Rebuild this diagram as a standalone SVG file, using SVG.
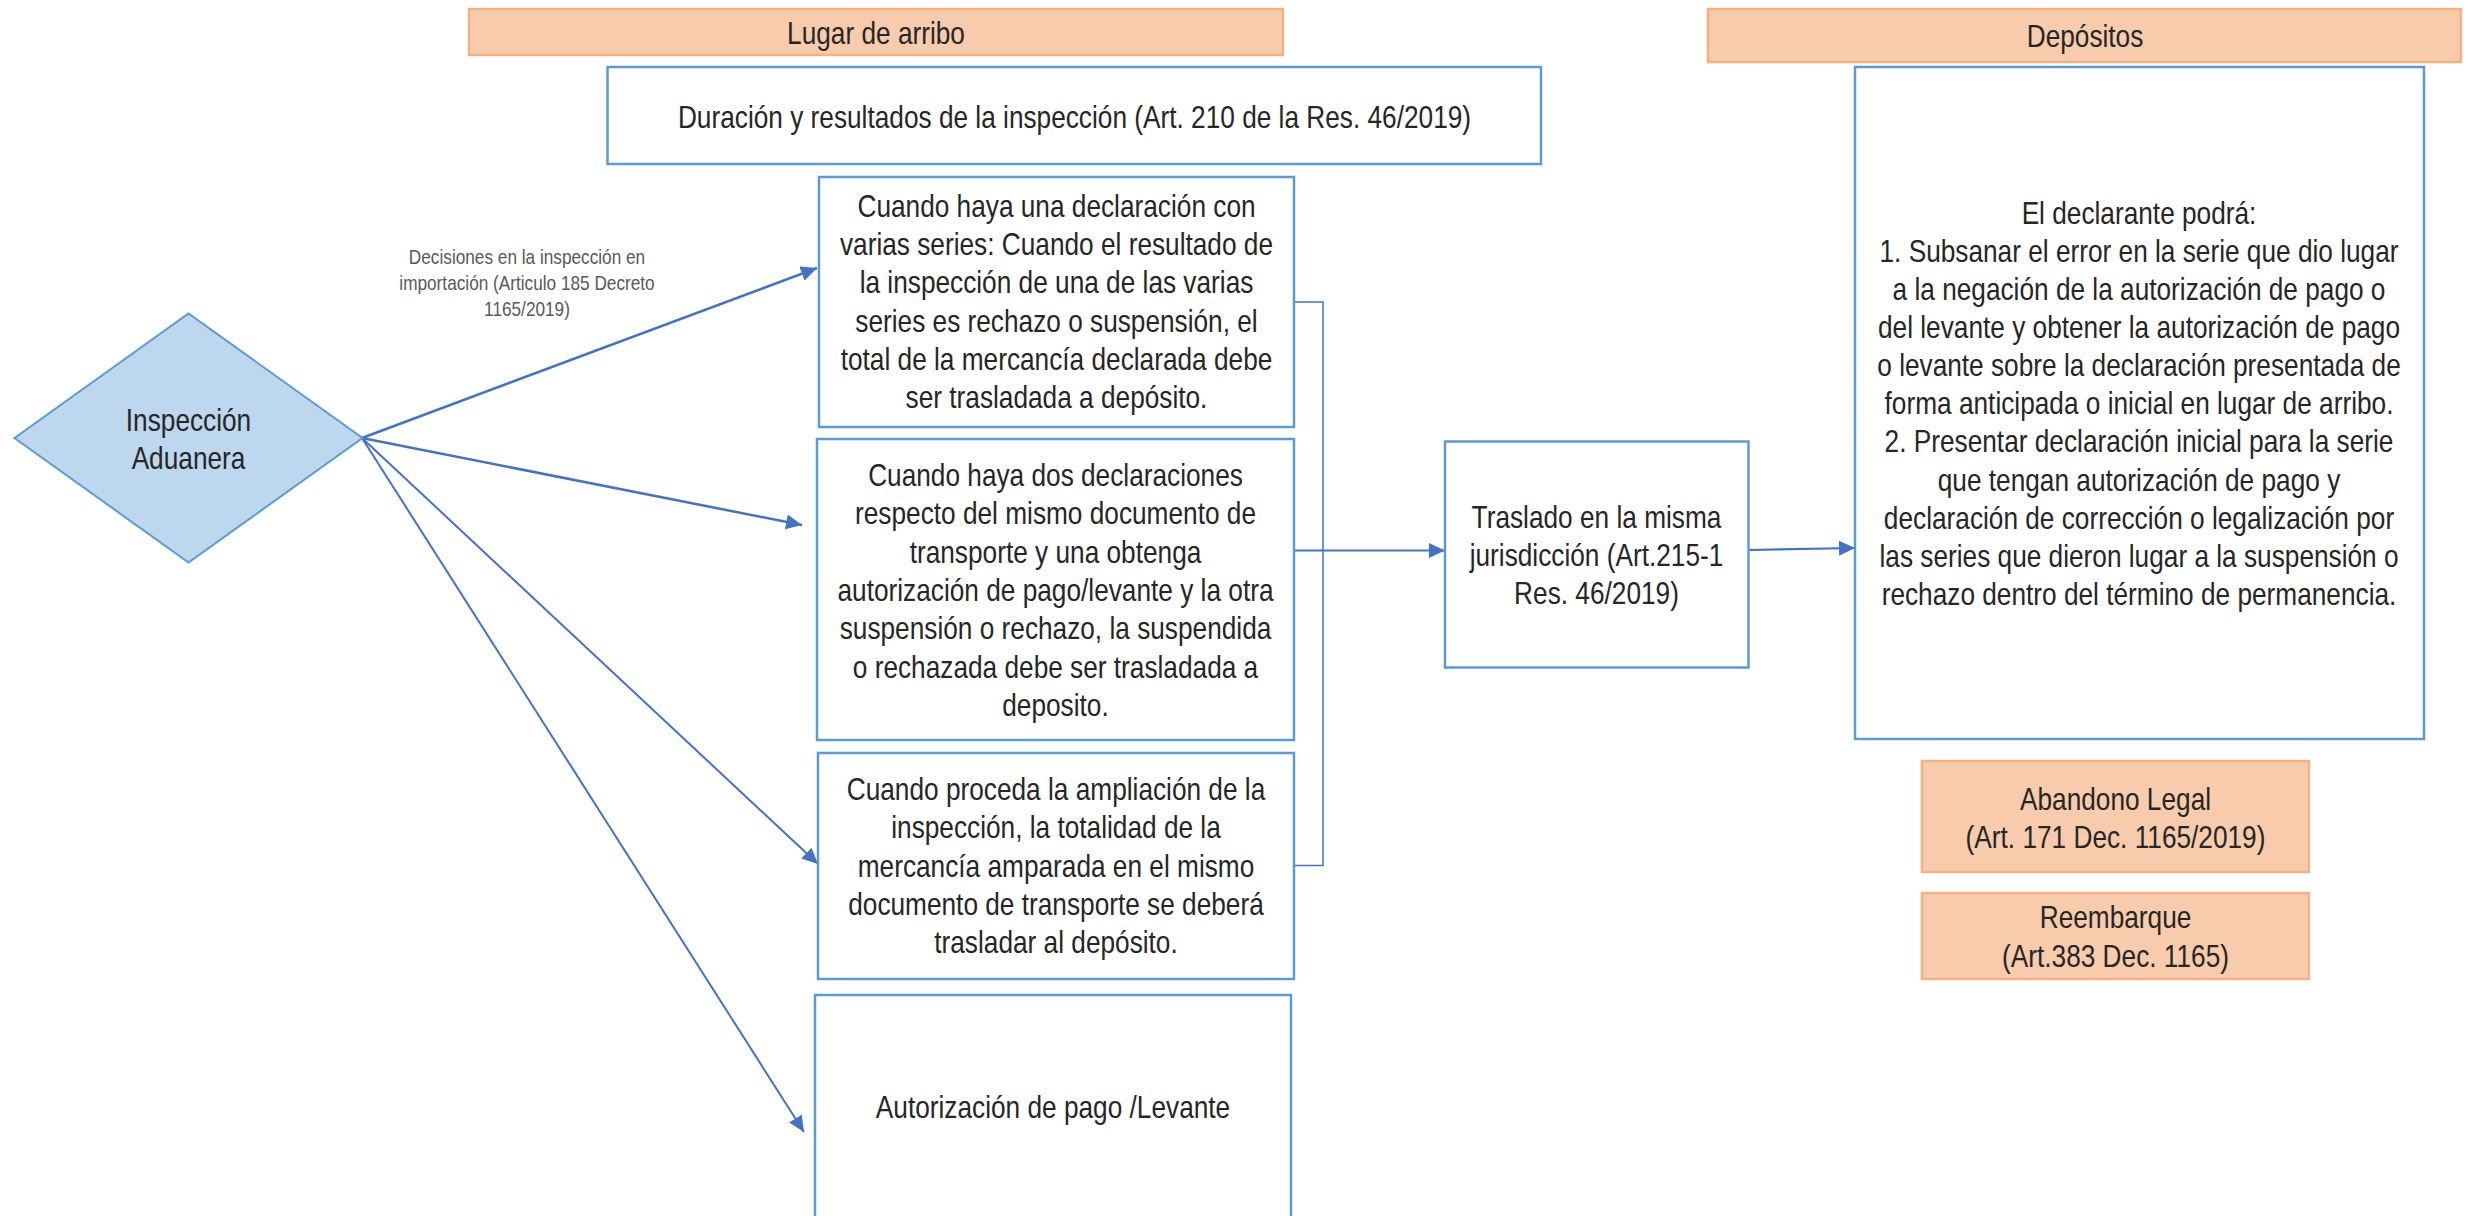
<svg xmlns="http://www.w3.org/2000/svg" width="2473" height="1216" viewBox="0 0 2473 1216">
<style>
.box{fill:#ffffff;stroke:#5B9BD5;stroke-width:2.5}
.hdr{fill:#F8CBAD;stroke:#F4B183;stroke-width:2.5}
.dia{fill:#BDD7EE;stroke:#5B9BD5;stroke-width:2}
text{font-family:'Liberation Sans',Arial,sans-serif;font-size:32px;fill:#262626;text-anchor:middle}
.lbl{font-size:21px;fill:#595959}
.conn{stroke:#4472C4;fill:none}
</style>
<defs>
<marker id="ah" markerUnits="userSpaceOnUse" markerWidth="17" markerHeight="15" refX="16" refY="7.5" orient="auto">
<path d="M0,0 L16,7.5 L0,15 z" fill="#4472C4"/>
</marker>
</defs>
<rect width="2473" height="1216" fill="#ffffff"/>

<g id="connectors">
<path class="conn" stroke-width="2.5" d="M362,438 L817,268" marker-end="url(#ah)"/>
<path class="conn" stroke-width="2.5" d="M362,438 L802,525" marker-end="url(#ah)"/>
<path class="conn" stroke-width="2" d="M362,438 L818,864" marker-end="url(#ah)"/>
<path class="conn" stroke-width="2" d="M362,438 L804,1132" marker-end="url(#ah)"/>
<path class="conn" stroke-width="1.5" d="M1294,302 H1323 V865.5 H1294"/>
<path class="conn" stroke-width="2.2" d="M1292,550.5 L1445,550.5" marker-end="url(#ah)"/>
<path class="conn" stroke-width="2.2" d="M1749,550 L1855,548" marker-end="url(#ah)"/>
</g>

<g id="hdr-lugar">
<rect class="hdr" x="469" y="9" width="814" height="46"/>
<text transform="translate(876 43.5) scale(.82 1)">Lugar de arribo</text>
</g>

<g id="hdr-depositos">
<rect class="hdr" x="1708" y="9" width="753" height="53"/>
<text transform="translate(2085 46.5) scale(.82 1)">Depósitos</text>
</g>

<g id="duracion">
<rect class="box" x="607.5" y="67" width="933.5" height="97"/>
<text transform="translate(1074.5 128.3) scale(.82 1)">Duración y resultados de la inspección (Art. 210 de la Res. 46/2019)</text>
</g>

<g id="inspeccion">
<polygon class="dia" points="14.5,438 188.5,313.5 362.5,438 188.5,562.5"/>
<text transform="translate(188.5 430.6) scale(.82 1)" font-size="31">Inspección</text>
<text transform="translate(188.5 468.7) scale(.82 1)" font-size="31">Aduanera</text>
</g>

<g id="label-decisiones">
<text class="lbl" transform="translate(527 264.4) scale(.82 1)">Decisiones en la inspección  en</text>
<text class="lbl" transform="translate(527 289.7) scale(.82 1)">importación (Articulo 185 Decreto</text>
<text class="lbl" transform="translate(527 315.9) scale(.82 1)">1165/2019)</text>
</g>

<g id="caso1">
<rect class="box" x="819" y="177" width="475" height="250"/>
<text transform="translate(1056.5 216.7) scale(.82 1)">Cuando haya una declaración con</text>
<text transform="translate(1056.5 255) scale(.82 1)">varias series: Cuando el resultado de</text>
<text transform="translate(1056.5 293.3) scale(.82 1)">la inspección de una de las varias</text>
<text transform="translate(1056.5 331.6) scale(.82 1)">series es rechazo o suspensión, el</text>
<text transform="translate(1056.5 369.9) scale(.82 1)">total de la mercancía declarada debe</text>
<text transform="translate(1056.5 408.2) scale(.82 1)">ser trasladada a depósito.</text>
</g>

<g id="caso2">
<rect class="box" x="817" y="439" width="477" height="301"/>
<text transform="translate(1055.5 486) scale(.82 1)">Cuando haya dos declaraciones</text>
<text transform="translate(1055.5 524.3) scale(.82 1)">respecto del mismo documento de</text>
<text transform="translate(1055.5 562.6) scale(.82 1)">transporte y una obtenga</text>
<text transform="translate(1055.5 600.9) scale(.82 1)">autorización de pago/levante y la otra</text>
<text transform="translate(1055.5 639.2) scale(.82 1)">suspensión o rechazo, la suspendida</text>
<text transform="translate(1055.5 677.5) scale(.82 1)">o rechazada debe ser trasladada a</text>
<text transform="translate(1055.5 715.8) scale(.82 1)">deposito.</text>
</g>

<g id="caso3">
<rect class="box" x="818" y="753" width="476" height="226"/>
<text transform="translate(1056 800) scale(.82 1)">Cuando proceda la ampliación de la</text>
<text transform="translate(1056 838.3) scale(.82 1)">inspección, la totalidad de la</text>
<text transform="translate(1056 876.5) scale(.82 1)">mercancía amparada en el mismo</text>
<text transform="translate(1056 914.8) scale(.82 1)">documento de transporte se deberá</text>
<text transform="translate(1056 953) scale(.82 1)">trasladar al depósito.</text>
</g>

<g id="autorizacion">
<rect class="box" x="815" y="995" width="476" height="245"/>
<text transform="translate(1053 1118) scale(.82 1)">Autorización de pago /Levante</text>
</g>

<g id="traslado">
<rect class="box" x="1445" y="441.5" width="303.5" height="226"/>
<text transform="translate(1596.5 527.6) scale(.82 1)">Traslado en la misma</text>
<text transform="translate(1596.5 566) scale(.82 1)">jurisdicción (Art.215-1</text>
<text transform="translate(1596.5 604) scale(.82 1)">Res. 46/2019)</text>
</g>

<g id="declarante">
<rect class="box" x="1855" y="67" width="569" height="672"/>
<text transform="translate(2139 223.5) scale(.82 1)">El declarante podrá:</text>
<text transform="translate(2139 261.7) scale(.82 1)">1. Subsanar el error en la serie que dio lugar</text>
<text transform="translate(2139 299.8) scale(.82 1)">a la negación de la autorización de pago o</text>
<text transform="translate(2139 338) scale(.82 1)">del levante y obtener la autorización de pago</text>
<text transform="translate(2139 376.1) scale(.82 1)">o levante sobre la declaración presentada de</text>
<text transform="translate(2139 414.3) scale(.82 1)">forma anticipada o inicial en lugar de arribo.</text>
<text transform="translate(2139 452.4) scale(.82 1)">2. Presentar declaración inicial para la serie</text>
<text transform="translate(2139 490.6) scale(.82 1)">que tengan autorización de pago y</text>
<text transform="translate(2139 528.7) scale(.82 1)">declaración de corrección o legalización por</text>
<text transform="translate(2139 566.9) scale(.82 1)">las series que dieron lugar a la suspensión o</text>
<text transform="translate(2139 605) scale(.82 1)">rechazo dentro del término de permanencia.</text>
</g>

<g id="abandono">
<rect class="hdr" x="1922" y="761" width="387" height="111"/>
<text transform="translate(2115.5 810) scale(.82 1)">Abandono Legal</text>
<text transform="translate(2115.5 848) scale(.82 1)">(Art. 171 Dec. 1165/2019)</text>
</g>

<g id="reembarque">
<rect class="hdr" x="1922" y="893" width="387" height="86"/>
<text transform="translate(2115.5 928) scale(.82 1)">Reembarque</text>
<text transform="translate(2115.5 967) scale(.82 1)">(Art.383 Dec. 1165)</text>
</g>
</svg>
